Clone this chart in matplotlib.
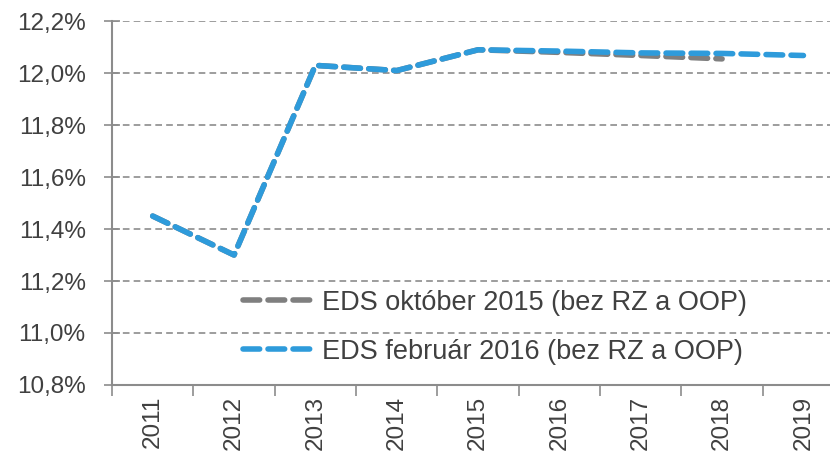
import numpy as np
import matplotlib.pyplot as plt

# data
years = ['2011', '2012', '2013', '2014', '2015', '2016', '2017', '2018', '2019']
eds_okt_2015 = [11.45, 11.30, 12.03, 12.01, 12.09, 12.08, 12.068, 12.055]
eds_feb_2016 = [11.45, 11.30, 12.03, 12.01, 12.09, 12.085, 12.078, 12.076, 12.068]

label_okt = 'EDS október 2015 (bez RZ a OOP)'
label_feb = 'EDS február 2016 (bez RZ a OOP)'

text_col = '#404040'
axis_col = '#8c8c8c'
plt.rcParams['font.family'] = ['Liberation Sans', 'DejaVu Sans']

fig = plt.figure(figsize=(8.3, 4.61), dpi=100)
# the plot area runs a bit past the right edge of the picture
ax = fig.add_axes([0.135, 0.165, 0.882, 0.789])

x = np.arange(len(years))
dash = (3.0, 1.5)
ax.plot(x[:len(eds_okt_2015)], eds_okt_2015, color='#7f7f7f', lw=4,
        dashes=dash, dash_capstyle='round', label=label_okt, zorder=3)
ax.plot(x, eds_feb_2016, color='#2e9bdb', lw=4,
        dashes=dash, dash_capstyle='round', label=label_feb, zorder=4)

ax.set_xlim(-0.5, 8.5)
ax.set_ylim(10.8, 12.2)
yt = np.arange(10.8, 12.21, 0.2)
ax.set_yticks(yt)
ax.set_yticklabels([('%.1f%%' % v).replace('.', ',') for v in yt])
ax.set_xticks(x)
ax.set_xticklabels(years, rotation=90)
ax.set_xticks(np.arange(-0.5, 8.6, 1), minor=True)
ax.tick_params(axis='x', which='major', length=0, pad=8)
ax.tick_params(axis='x', which='minor', length=8, color=axis_col, width=1.2)
ax.tick_params(axis='y', direction='inout', length=12, color=axis_col, width=1.2, pad=13)
ax.tick_params(labelsize=17.5, labelcolor=text_col)

ax.grid(axis='y', color=axis_col, linestyle=(0, (4, 2.5)), lw=1.2, zorder=0)
for s in ['top', 'right']:
    ax.spines[s].set_visible(False)
for s in ['left', 'bottom']:
    ax.spines[s].set_color(axis_col)
    ax.spines[s].set_linewidth(1.5)

leg = ax.legend(loc='center left', bbox_to_anchor=(0.293, 0.29),
                bbox_transform=fig.transFigure, frameon=False,
                fontsize=19.5, handlelength=2.5, handletextpad=0.4,
                labelspacing=0.85, borderpad=0, borderaxespad=0)
for t in leg.get_texts():
    t.set_color(text_col)

fig.savefig('out.png', dpi=100)
